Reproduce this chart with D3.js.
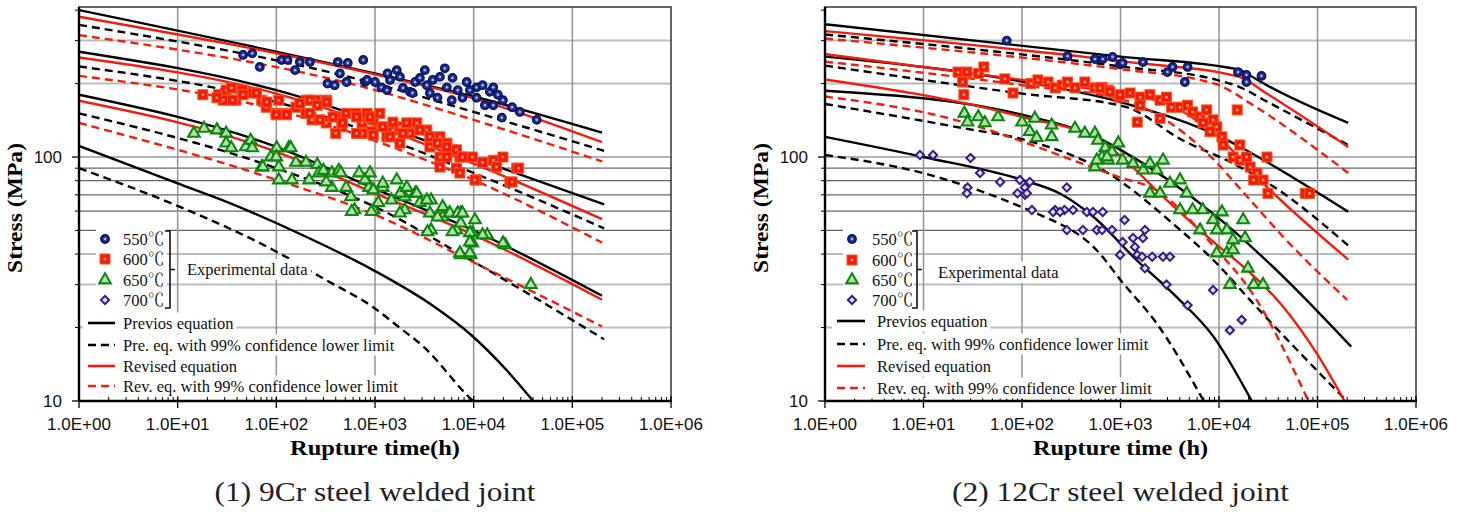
<!DOCTYPE html>
<html>
<head>
<meta charset="utf-8">
<script src="https://cdn.jsdelivr.net/npm/d3@7"></script>
<style>
  body { margin: 0; background: #fff; }
  svg { display: block; }
</style>
</head>
<body>
<svg id="chart" width="1464" height="512"></svg>
<script>
// ---- axis values ----
const decades = [1, 10, 100, 1000, 10000, 100000, 1000000];
const decadeLabels = ["1.0E+00", "1.0E+01", "1.0E+02", "1.0E+03", "1.0E+04", "1.0E+05", "1.0E+06"];
const stressLabels = [10, 100];
const gridDark = [50, 60, 70, 80, 90, 100];
const gridLight = [20, 30, 40, 200, 300];
const yMax = 412;

const temps = ["550℃", "600℃", "650℃", "700℃"];
const lineLabels = ["Previos equation", "Pre. eq. with 99% confidence lower limit",
                    "Revised equation", "Rev. eq. with 99% confidence lower limit"];

// ---- 9Cr curves [hours, MPa] ----
const cr9_550_prev    = [[1,400],[1000,220],[10000,177],[200000,126]];
const cr9_550_prevLow = [[1,348],[1000,200],[10000,153],[210000,106]];
const cr9_550_rev     = [[1,376],[1000,218],[10000,174],[200000,115]];
const cr9_550_revLow  = [[1,316],[1000,188],[10000,142],[200000,96]];
const cr9_600_prev    = [[1,270],[100,188],[10000,99],[210000,64]];
const cr9_600_prevLow = [[1,235],[100,168],[10000,86],[210000,51]];
const cr9_600_rev     = [[1,256],[100,182],[10000,94],[200000,55.6]];
const cr9_600_revLow  = [[1,215],[100,156],[10000,80.5],[200000,44.6]];
const cr9_650_prev    = [[1,180],[100,110],[1000,74],[10000,50],[200000,27]];
const cr9_650_prevLow = [[1,151],[100,90],[1000,62.5],[10000,37.2],[210000,17.9]];
const cr9_650_rev     = [[1,170],[100,105],[1000,71],[10000,48],[200000,26]];
const cr9_650_revLow  = [[1,138],[100,80.6],[1000,58],[10000,37],[200000,20.2]];
const cr9_700_prev    = [[1,111],[10,78],[28,66.7],[170,48.6],[960,34.4],[3900,24.5],[9500,18.6],[21500,13.4],[40100,10]];
const cr9_700_prevLow = [[1,90],[10,63],[93,41.6],[320,31.3],[950,24.3],[1800,19.9],[3100,16.7],[8500,10.6],[9800,10]];

// ---- 12Cr curves [hours, MPa] ----
const cr12_550_prev    = [[1,350],[1000,258],[16000,228],[19000,220],[30500,197],[205000,138]];
const cr12_550_prevLow = [[1,318],[1100,234],[9500,207],[16000,194],[30500,169],[205000,112]];
const cr12_550_rev     = [[1,328],[1100,246],[16000,213],[30500,182],[205000,110]];
const cr12_550_revLow  = [[1,306],[1100,228],[6400,207],[10000,197],[20700,166],[205000,86]];
const cr12_600_prev    = [[1,258],[100,204],[1000,168],[12000,117.5],[25000,100],[205000,59.7]];
const cr12_600_prevLow = [[1,237],[100,182],[1100,161],[4300,117],[14000,94],[36000,75.5],[210000,43]];
const cr12_600_rev     = [[1,264],[100,207],[1000,182],[3000,165],[10000,120],[30000,76],[205000,38]];
const cr12_600_revLow  = [[1,246],[100,197],[1100,171],[7000,107],[20700,66.7],[45000,47],[200000,26]];
const cr12_650_prev    = [[1,187],[100,149],[650,117.5],[1000,107],[9500,57],[45000,32.3],[220000,16.7]];
const cr12_650_prevLow = [[1,165],[26,131],[107,117.5],[750,85.8],[3700,51.8],[9500,36.6],[20700,25.9],[198000,10]];
const cr12_650_rev     = [[1,208],[100,146],[640,116],[1000,101],[2700,68.8],[10000,42.9],[17700,35.5],[45000,24.3],[98000,15.7],[188000,10]];
const cr12_650_revLow  = [[1,177],[13,149],[950,83],[2300,73.2],[9500,41.6],[20700,28.5],[81000,10]];
const cr12_700_prev    = [[1,121],[10,100],[100,80.6],[240,71],[530,56.9],[1460,37.8],[3700,26.7],[8750,18.4],[21500,10]];
const cr12_700_prevLow = [[1,102],[10,85.8],[107,61.6],[140,58.8],[570,41.6],[1070,30.3],[2330,20.8],[7000,10]];

// ---- experimental data [hours, MPa] ----
const cr9_550 = [[46,262],[57,266],[68,234],[113,250],[130,250],[155,227],[173,245],[219,245],[420,245],[441,220],
  [530,243],[515,203],[760,250],[330,200],[390,197],[790,203],[1000,203],[1160,193],[1420,207],[1660,227],
  [1790,213],[1920,192],[2260,185],[2550,203],[2850,211],[3200,227],[3350,197],[3850,207],[4550,213],[5100,231],
  [5350,193],[6100,211],[6000,171],[6900,188],[8500,203],[9150,188],[10700,193],[12300,197],[14600,185],[15800,193],
  [17600,180],[19800,171],[24500,160],[19300,145],[29400,153],[43500,142],[13000,163],[15800,163],[7700,175],[10700,175],
  [3600,183],[4300,175],[2400,183],[1340,220],[830,207],[1320,188]];
const cr9_600 = [[18,180],[26,180],[31,188],[35,192],[45,188],[57,183],[39,171],[29,171],[71,171],[79,160],
  [99,151],[125,151],[106,171],[158,160],[200,171],[250,171],[320,171],[200,151],[230,142],[320,138],
  [400,146],[460,133],[510,151],[640,151],[740,138],[870,146],[930,127],[740,125],[400,125],[25,175],
  [36,171],[46,180],[63,183],[80,168],[100,149],[127,149],[173,166],[219,171],[260,163],[325,168],
  [219,151],[277,142],[375,146],[470,138],[650,146],[830,151],[960,142],[1200,133],[1520,129],[1790,133],
  [2260,125],[2650,138],[3350,129],[3850,117],[4550,121],[5350,114],[6100,107],[7250,100],[4550,100],[6700,90],
  [3600,110],[1790,114],[1320,121],[960,123],[650,125],[890,146],[1120,151],[1520,139],[2100,138],[2850,129],
  [3600,121],[4300,114],[5350,110],[6700,107],[7700,100],[9700,100],[12300,95],[15800,97],[19800,100],[27300,90],
  [23300,79],[10700,80.5],[7250,86],[4550,91],[17000,91],[5350,100],[1420,121],[1920,125],[28600,90],[24500,79],[10300,80.5]];
const cr9_650 = [[14.6,125],[18.5,131],[25,129],[31,125],[31,114],[35,109],[49,110],[55,117],[57,109],[71,91],
  [88,100],[101,109],[134,109],[106,91],[106,80.5],[144,80.5],[158,95],[200,95],[260,93],[270,86],
  [365,86],[430,88],[690,86],[810,80.5],[870,75],[365,75],[510,75],[215,80.5],[320,79],[73,91],
  [100,100],[140,109],[300,88],[450,86],[620,60.7],[970,60.7],[1470,66.6],[2000,68.6],[2850,65],[3700,66.6],
  [4850,56.7],[5700,58.9],[7400,58.9],[10300,55.2],[3700,50.2],[6700,50.2],[9700,48.9],[13700,47.9],[9700,44.4],[7400,39.7],
  [9300,39.7],[20900,43.6],[38000,30],[1800,71],[1200,75],[790,80.5],[570,68.6],[1080,65],[2000,60.7],[2550,71],
  [4850,62.5],[7400,53.6],[890,86],[1200,78],[1660,80.5],[2100,75],[2650,71],[3350,66.6],[3600,58.9],[4300,56.7],
  [5740,58.9],[6900,58.9],[7700,58.9],[6100,49.3],[9150,48.9],[12300,47.9],[9150,44.8],[19800,44.4],[7250,40.4],[9150,40.4],
  [3400,49.3],[1790,58.9],[960,73.2],[580,59.7],[920,59.7]];
const cr9_700 = [];

const cr12_550 = [[70,300],[290,259],[550,252],[660,252],[830,257],[990,240],[1050,243],[1690,245],[3000,223],[3380,234],
  [4800,234],[4500,203],[15600,223],[19000,217],[19000,203],[27000,215]];
const cr12_600 = [[22.4,223],[27.6,223],[25,203],[25.7,180],[36,220],[41,234],[67,209],[81,183],[123,200],[145,207],
  [184,203],[217,192],[255,197],[290,203],[345,192],[435,203],[550,192],[650,193],[750,188],[950,176],
  [620,192],[780,185],[990,180],[1250,183],[1580,176],[1990,180],[2520,171],[2930,176],[3300,160],[4020,160],
  [4800,163],[5400,153],[6420,146],[7500,156],[8700,142],[6900,138],[9500,133],[10700,121],[11000,112],[8100,127],
  [15300,156],[16300,112],[13900,100],[16300,97],[19000,100],[20700,91],[24300,86],[28000,80.5],[22500,80.5],[31400,71],
  [30700,100],[75000,71],[83000,71],[1480,139],[1580,163],[2520,144]];
const cr12_650 = [[26,151],[28,139],[36,146],[42,138],[57,146],[100,139],[120,127],[135,144],[141,120],[200,135],
  [200,121],[345,131],[435,125],[550,125],[590,117],[700,109],[820,105],[950,114],[550,91],[650,100],
  [750,97],[575,97],[730,100],[1050,97],[1340,94],[1700,88.4],[1990,94],[2330,88.4],[2700,97],[1990,71],
  [2520,71],[3180,78],[4020,80.5],[4700,71],[4020,60.7],[5400,60.7],[6850,60.7],[6420,50.2],[8700,55.2],[10700,59.5],
  [12000,50.2],[13900,45.7],[17600,55.2],[18400,46.6],[9500,40.4],[12000,40.4],[13900,41.6],[19700,35],[12900,30],[22500,30],
  [28000,30],[9500,50.2]];
const cr12_700 = [[9.2,102],[12.5,102],[30,99],[37.5,86],[28,75],[27.6,71],[60,79],[95,80.5],[107,75],[120,79],
  [90,71],[107,70],[126,60.7],[285,75],[217,60.7],[270,60.7],[330,60.7],[112,71],[207,59.5],[243,59.5],
  [455,59.5],[525,59.5],[660,59.5],[285,50.2],[415,50.2],[575,50.2],[650,50.2],[820,50.2],[1100,55.2],[1050,44.8],
  [1340,46.6],[1770,50.2],[1690,46.6],[1400,42.8],[990,39.7],[1480,39.7],[1660,39],[2100,39],[2700,39],[3180,39],
  [1770,35],[2930,30],[4800,24.7],[8700,28.5],[12900,19.5],[17000,21.5]];

// ---- layout ----
const plotTop = 7, plotBottom = 401;
const serif = "'Liberation Serif','Noto Serif CJK JP','Noto Sans CJK JP',serif";
const sans = "'Liberation Sans',Arial,sans-serif";
const red = "#f41c0c";
const dash = "8,5";

const styles = {
  prev:    {stroke: "#000", dash: null},
  prevLow: {stroke: "#000", dash: dash},
  rev:     {stroke: red, dash: null},
  revLow:  {stroke: red, dash: dash}
};
const markerTypes = ["circle", "square", "triangle", "diamond"];

const panels = [
  {
    left: 79, right: 671, title: "Rupture time(h)", caption: "(1) 9Cr steel welded joint",
    titleLen: 170, captionLen: 321,
    curves: [
      ["prev", cr9_550_prev], ["prevLow", cr9_550_prevLow], ["rev", cr9_550_rev], ["revLow", cr9_550_revLow],
      ["prev", cr9_600_prev], ["prevLow", cr9_600_prevLow], ["rev", cr9_600_rev], ["revLow", cr9_600_revLow],
      ["prev", cr9_650_prev], ["prevLow", cr9_650_prevLow], ["rev", cr9_650_rev], ["revLow", cr9_650_revLow],
      ["prev", cr9_700_prev], ["prevLow", cr9_700_prevLow]
    ],
    points: [cr9_550, cr9_600, cr9_650, cr9_700],
    lg: {symX: 105, txtX: 123, bracketX: 170, expX: 187, expY: 269, tempRows: [239, 259, 280, 300],
         lineRows: [323, 345, 366, 386], lineX0: 88, lineX1: 115, lineTxtX: 123}
  },
  {
    left: 825, right: 1416, title: "Rupture time (h)", caption: "(2) 12Cr steel welded joint",
    titleLen: 175, captionLen: 337,
    curves: [
      ["prev", cr12_550_prev], ["prevLow", cr12_550_prevLow], ["rev", cr12_550_rev], ["revLow", cr12_550_revLow],
      ["prev", cr12_600_prev], ["prevLow", cr12_600_prevLow], ["rev", cr12_600_rev], ["revLow", cr12_600_revLow],
      ["prev", cr12_650_prev], ["prevLow", cr12_650_prevLow], ["rev", cr12_650_rev], ["revLow", cr12_650_revLow],
      ["prev", cr12_700_prev], ["prevLow", cr12_700_prevLow]
    ],
    points: [cr12_550, cr12_600, cr12_650, cr12_700],
    lg: {symX: 852, txtX: 872, bracketX: 917, expX: 938, expY: 272, tempRows: [239, 260, 280, 300],
         lineRows: [321, 344, 366, 388], lineX0: 837, lineX1: 865, lineTxtX: 877}
  }
];

const svg = d3.select("#chart");
svg.append("rect").attr("width", 1464).attr("height", 512).attr("fill", "#fff");
const defs = svg.append("defs");

function drawMarker(sel, type) {
  if (type === "circle") {
    sel.append("circle").attr("r", 4.2).attr("fill", "#1d2b87").attr("stroke", "#0b1362").attr("stroke-width", 1.4);
    sel.append("circle").attr("r", 1.4).attr("fill", "#9fb4ea");
  } else if (type === "square") {
    sel.append("rect").attr("x", -5).attr("y", -5).attr("width", 10).attr("height", 10)
      .attr("fill", "#f21a0a").attr("stroke", "#f7561e").attr("stroke-width", 1);
    sel.append("rect").attr("x", -1.3).attr("y", -1.3).attr("width", 2.6).attr("height", 2.6).attr("fill", "#f9a066");
  } else if (type === "triangle") {
    sel.append("path").attr("d", d3.symbol().type(d3.symbolTriangle).size(58)())
      .attr("fill", "#b4dfad").attr("stroke", "#0e870e").attr("stroke-width", 2.1);
  } else {
    // square turned 45 degrees
    sel.append("path").attr("d", d3.symbol().type(d3.symbolSquare).size(34)())
      .attr("transform", "rotate(45)")
      .attr("fill", "#e4dcfa").attr("stroke", "#351c8a").attr("stroke-width", 2);
  }
}

panels.forEach((p, i) => {
  const x = d3.scaleLog().domain([1, 1e6]).range([p.left, p.right]);
  const y = d3.scaleLog().domain([10, yMax]).range([plotBottom, plotTop]);
  const g = svg.append("g");

  defs.append("clipPath").attr("id", "clip" + i).append("rect")
    .attr("x", p.left).attr("y", plotTop).attr("width", p.right - p.left).attr("height", plotBottom - plotTop);

  // grid
  g.selectAll(".gl").data(gridLight).join("line")
    .attr("x1", p.left).attr("x2", p.right).attr("y1", d => y(d)).attr("y2", d => y(d))
    .attr("stroke", "#bcbcbc").attr("stroke-width", 2);
  g.selectAll(".gd").data(gridDark).join("line")
    .attr("x1", p.left).attr("x2", p.right).attr("y1", d => y(d)).attr("y2", d => y(d))
    .attr("stroke", "#666").attr("stroke-width", 1.2);
  g.selectAll(".gv").data(decades.slice(1, -1)).join("line")
    .attr("x1", d => x(d)).attr("x2", d => x(d)).attr("y1", plotTop).attr("y2", plotBottom)
    .attr("stroke", "#939393").attr("stroke-width", 1.5);

  // curves
  const line = d3.line().x(d => x(d[0])).y(d => y(d[1])).curve(d3.curveMonotoneX);
  const cg = g.append("g").attr("clip-path", `url(#clip${i})`);
  const ordered = p.curves.filter(c => styles[c[0]].stroke === "#000").concat(p.curves.filter(c => styles[c[0]].stroke !== "#000"));
  cg.selectAll("path").data(ordered).join("path")
    .attr("d", d => line(d[1]))
    .attr("fill", "none")
    .attr("stroke", d => styles[d[0]].stroke)
    .attr("stroke-width", 2.4)
    .attr("stroke-dasharray", d => styles[d[0]].dash);

  // experimental points
  p.points.forEach((pts, k) => {
    cg.append("g").selectAll("g").data(pts).join("g")
      .attr("transform", d => `translate(${x(d[0])},${y(d[1])})`)
      .each(function() { drawMarker(d3.select(this), markerTypes[k]); });
  });

  // frame and axes
  g.append("rect").attr("x", p.left).attr("y", plotTop).attr("width", p.right - p.left).attr("height", plotBottom - plotTop)
    .attr("fill", "none").attr("stroke", "#333").attr("stroke-width", 1.5);
  g.append("line").attr("x1", p.left).attr("x2", p.left).attr("y1", plotTop).attr("y2", plotBottom + 1)
    .attr("stroke", "#000").attr("stroke-width", 2.4);
  g.append("line").attr("x1", p.left - 1).attr("x2", p.right + 1).attr("y1", plotBottom).attr("y2", plotBottom)
    .attr("stroke", "#000").attr("stroke-width", 2.4);

  // x ticks
  const xMinor = x.ticks().filter(t => !decades.includes(t));
  g.selectAll(".xm").data(xMinor).join("line")
    .attr("x1", d => x(d)).attr("x2", d => x(d)).attr("y1", plotBottom).attr("y2", plotBottom - 4)
    .attr("stroke", "#000").attr("stroke-width", 1);
  g.selectAll(".xM").data(decades).join("line")
    .attr("x1", d => x(d)).attr("x2", d => x(d)).attr("y1", plotBottom - 5).attr("y2", plotBottom + 7)
    .attr("stroke", "#000").attr("stroke-width", 1.3);
  g.selectAll(".xl").data(decades).join("text")
    .attr("x", d => x(d)).attr("y", 430).attr("text-anchor", "middle")
    .attr("font-family", sans).attr("font-size", 17).attr("fill", "#111")
    .text((d, j) => decadeLabels[j]);

  // y ticks
  const yMinor = y.ticks().filter(t => t <= yMax && !stressLabels.includes(t));
  g.selectAll(".ym").data(yMinor).join("line")
    .attr("x1", p.left - 4).attr("x2", p.left).attr("y1", d => y(d)).attr("y2", d => y(d))
    .attr("stroke", "#000").attr("stroke-width", 1);
  g.selectAll(".yM").data(stressLabels).join("line")
    .attr("x1", p.left - 7).attr("x2", p.left).attr("y1", d => y(d)).attr("y2", d => y(d))
    .attr("stroke", "#000").attr("stroke-width", 1.3);
  g.selectAll(".yl").data(stressLabels).join("text")
    .attr("x", p.left - 17).attr("y", d => y(d)).attr("dy", "0.36em").attr("text-anchor", "end")
    .attr("font-family", sans).attr("font-size", 17).attr("fill", "#111")
    .text(d => d);

  // titles
  const cx = (p.left + p.right) / 2;
  g.append("text").attr("x", cx).attr("y", 455).attr("text-anchor", "middle")
    .attr("font-family", serif).attr("font-weight", "bold").attr("font-size", 22)
    .attr("textLength", p.titleLen).attr("lengthAdjust", "spacingAndGlyphs").text(p.title);
  g.append("text").attr("transform", `translate(${p.left - 57},${208}) rotate(-90)`)
    .attr("text-anchor", "middle").attr("font-family", serif).attr("font-weight", "bold").attr("font-size", 21)
    .attr("textLength", 130).attr("lengthAdjust", "spacingAndGlyphs")
    .text("Stress (MPa)");
  g.append("text").attr("x", cx).attr("y", 501).attr("text-anchor", "middle")
    .attr("font-family", serif).attr("font-size", 27).attr("fill", "#222")
    .attr("textLength", p.captionLen).attr("lengthAdjust", "spacingAndGlyphs").text(p.caption);

  // legend
  const lg = g.append("g").attr("font-family", serif).attr("font-size", 16.5).attr("fill", "#111");
  const L = p.lg;
  const rows = L.tempRows;
  lg.append("rect").attr("x", L.symX - 9).attr("y", rows[0] - 10).attr("width", L.bracketX - L.symX + 6)
    .attr("height", rows[3] - rows[0] + 20).attr("fill", "#fff");
  temps.forEach((t, k) => {
    const s = lg.append("g").attr("transform", `translate(${L.symX},${rows[k]})`);
    drawMarker(s, markerTypes[k]);
    lg.append("text").attr("x", L.txtX).attr("y", rows[k]).attr("dy", "0.35em").text(t);
  });
  const bTop = rows[0] - 8, bBot = rows[3] + 8, bMid = (bTop + bBot) / 2;
  lg.append("path")
    .attr("d", `M${L.bracketX - 5},${bTop}H${L.bracketX}V${bBot}H${L.bracketX - 5}M${L.bracketX},${bMid}H${L.bracketX + 5}`)
    .attr("fill", "none").attr("stroke", "#111").attr("stroke-width", 1.6);
  const expBg = lg.append("rect").attr("fill", "#fff");
  const expTxt = lg.append("text").attr("x", L.expX).attr("y", L.expY).attr("dy", "0.35em").text("Experimental data");
  const eb = expTxt.node().getBBox();
  expBg.attr("x", eb.x - 3).attr("y", eb.y - 1).attr("width", eb.width + 6).attr("height", eb.height + 2);

  const lineKinds = ["prev", "prevLow", "rev", "revLow"];
  lineKinds.forEach((kind, k) => {
    const ry = L.lineRows[k];
    const bg = lg.append("rect").attr("fill", "#fff");
    const tx = lg.append("text").attr("x", L.lineTxtX).attr("y", ry).attr("dy", "0.35em").text(lineLabels[k]);
    const bb = tx.node().getBBox();
    bg.attr("x", L.lineX0 - 5).attr("y", ry - 10.5).attr("width", bb.x + bb.width + 3 - (L.lineX0 - 5)).attr("height", 21);
    lg.append("line").attr("x1", L.lineX0).attr("x2", L.lineX1).attr("y1", ry).attr("y2", ry)
      .attr("stroke", styles[kind].stroke).attr("stroke-width", 2.6)
      .attr("stroke-dasharray", styles[kind].dash);
  });
});
</script>
</body>
</html>
